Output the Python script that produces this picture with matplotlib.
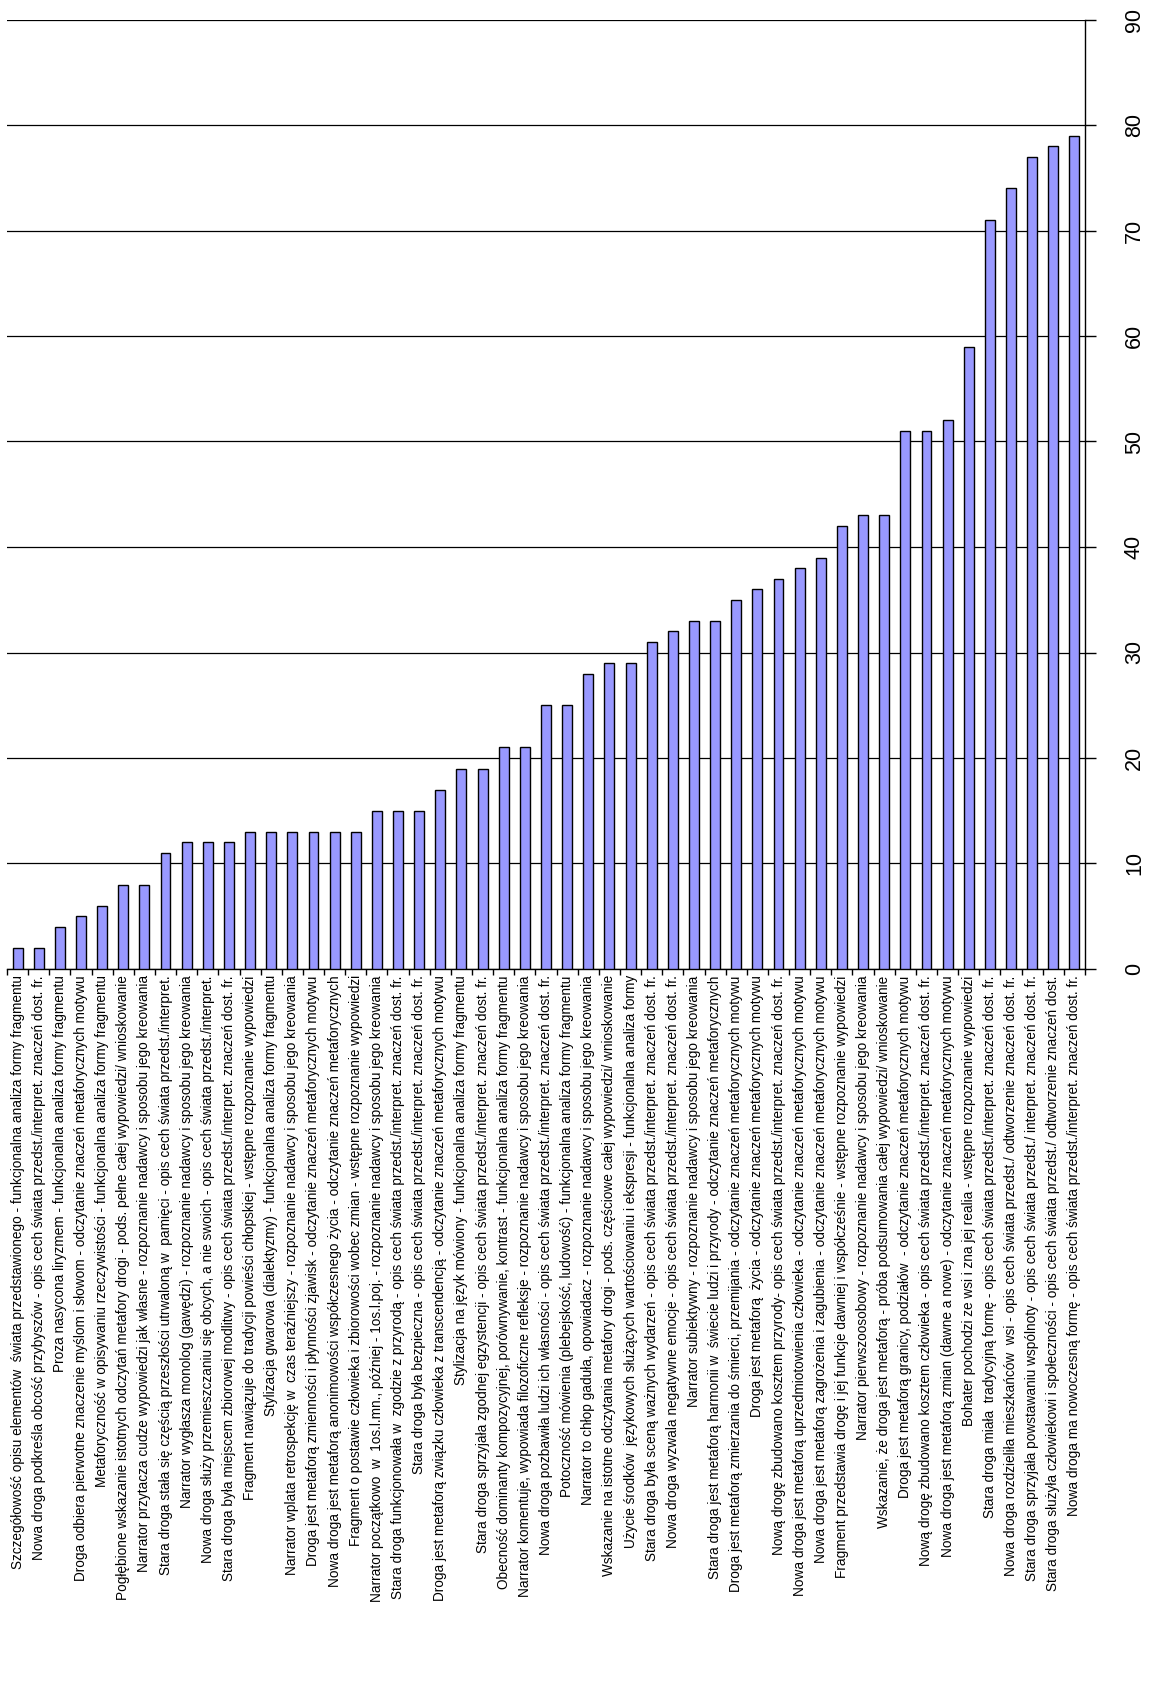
import matplotlib
matplotlib.use("Agg")
import matplotlib.pyplot as plt
import numpy as np

plt.rcParams['font.family'] = ['Liberation Sans Narrow', 'Liberation Sans', 'DejaVu Sans']

# dane: kategorie (od najniższej do najwyższej wartości) i liczebności
categories = [
    "Szczegółowość opisu elementów  świata przedstawionego - funkcjonalna analiza formy fragmentu",
    "Nowa droga podkreśla obcość przybyszów - opis cech świata przedst./interpret. znaczeń dost. fr.",
    "Proza nasycona liryzmem - funkcjonalna analiza formy fragmentu",
    "Droga odbiera pierwotne znaczenie myślom i słowom - odczytanie znaczeń metaforycznych motywu",
    "Metaforyczność w opisywaniu rzeczywistości - funkcjonalna analiza formy fragmentu",
    "Pogłębione wskazanie istotnych odczytań metafory drogi - pods. pełne całej wypowiedzi/ wnioskowanie",
    "Narrator przytacza cudze wypowiedzi jak własne - rozpoznanie nadawcy i sposobu jego kreowania",
    "Stara droga stała się częścią przeszłości utrwaloną w  pamięci - opis cech świata przedst./interpret.",
    "Narrator wygłasza monolog (gawędzi) - rozpoznanie nadawcy i sposobu jego kreowania",
    "Nowa droga służy przemieszczaniu się obcych, a nie swoich - opis cech świata przedst./interpret.",
    "Stara droga była miejscem zbiorowej modlitwy - opis cech świata przedst./interpret. znaczeń dost. fr.",
    "Fragment nawiązuje do tradycji powieści chłopskiej - wstępne rozpoznanie wypowiedzi",
    "Stylizacja gwarowa (dialektyzmy) - funkcjonalna analiza formy fragmentu",
    "Narrator wplata retrospekcję w  czas teraźniejszy - rozpoznanie nadawcy i sposobu jego kreowania",
    "Droga jest metaforą zmienności i płynności zjawisk - odczytanie znaczeń metaforycznych motywu",
    "Nowa droga jest metaforą anonimowości współczesnego życia - odczytanie znaczeń metaforycznych",
    "Fragment o postawie człowieka i zbiorowości wobec zmian - wstępne rozpoznanie wypowiedzi",
    "Narrator początkowo  w  1os.l.mn., później - 1os.l.poj. - rozpoznanie nadawcy i sposobu jego kreowania",
    "Stara droga funkcjonowała w  zgodzie z przyrodą - opis cech świata przedst./interpret. znaczeń dost. fr.",
    "Stara droga była bezpieczna - opis cech świata przedst./interpret. znaczeń dost. fr.",
    "Droga jest metaforą związku człowieka z transcendencją - odczytanie znaczeń metaforycznych motywu",
    "Stylizacja na język mówiony - funkcjonalna analiza formy fragmentu",
    "Stara droga sprzyjała zgodnej egzystencji - opis cech świata przedst./interpret. znaczeń dost. fr.",
    "Obecność dominanty kompozycyjnej, porównywanie, kontrast - funkcjonalna analiza formy fragmentu",
    "Narrator komentuje, wypowiada filozoficzne refleksje - rozpoznanie nadawcy i sposobu jego kreowania",
    "Nowa droga pozbawiła ludzi ich własności - opis cech świata przedst./interpret. znaczeń dost. fr.",
    "Potoczność mówienia (plebejskość, ludowość) - funkcjonalna analiza formy fragmentu",
    "Narrator to chłop gaduła, opowiadacz - rozpoznanie nadawcy i sposobu jego kreowania",
    "Wskazanie na istotne odczytania metafory drogi - pods. częściowe całej wypowiedzi/ wnioskowanie",
    "Użycie środków  językowych służących wartościowaniu i ekspresji - funkcjonalna analiza formy",
    "Stara droga była sceną ważnych wydarzeń - opis cech świata przedst./interpret. znaczeń dost. fr.",
    "Nowa droga wyzwala negatywne emocje - opis cech świata przedst./interpret. znaczeń dost. fr.",
    "Narrator subiektywny - rozpoznanie nadawcy i sposobu jego kreowania",
    "Stara droga jest metaforą harmonii w  świecie ludzi i przyrody - odczytanie znaczeń metaforycznych",
    "Droga jest metaforą zmierzania do śmierci, przemijania - odczytanie znaczeń metaforycznych motywu",
    "Droga jest metaforą  życia - odczytanie znaczeń metaforycznych motywu",
    "Nową drogę zbudowano kosztem przyrody- opis cech świata przedst./interpret. znaczeń dost. fr.",
    "Nowa droga jest metaforą uprzedmiotowienia człowieka - odczytanie znaczeń metaforycznych motywu",
    "Nowa droga jest metaforą zagrożenia i zagubienia - odczytanie znaczeń metaforycznych motywu",
    "Fragment przedstawia drogę i jej funkcje dawniej i współcześnie - wstępne rozpoznanie wypowiedzi",
    "Narrator pierwszoosobowy - rozpoznanie nadawcy i sposobu jego kreowania",
    "Wskazanie, że droga jest metaforą - próba podsumowania całej wypowiedzi/ wnioskowanie",
    "Droga jest metaforą granicy, podziałów  - odczytanie znaczeń metaforycznych motywu",
    "Nową drogę zbudowano kosztem człowieka - opis cech świata przedst./interpret. znaczeń dost. fr.",
    "Nowa droga jest metaforą zmian (dawne a nowe) - odczytanie znaczeń metaforycznych motywu",
    "Bohater pochodzi ze wsi i zna jej realia - wstępne rozpoznanie wypowiedzi",
    "Stara droga miała  tradycyjną formę - opis cech świata przedst./interpret. znaczeń dost. fr.",
    "Nowa droga rozdzieliła mieszkańców  wsi - opis cech świata przedst./ odtworzenie znaczeń dost. fr.",
    "Stara droga sprzyjała powstawaniu wspólnoty - opis cech świata przedst./ interpret. znaczeń dost. fr.",
    "Stara droga służyła człowiekowi i społeczności - opis cech świata przedst./ odtworzenie znaczeń dost.",
    "Nowa droga ma nowoczesną formę - opis cech świata przedst./interpret. znaczeń dost. fr.",
]
values = [2, 2, 4, 5, 6, 8, 8, 11, 12, 12, 12, 13, 13, 13, 13, 13, 13, 15, 15, 15,
          17, 19, 19, 21, 21, 25, 25, 28, 29, 29, 31, 32, 33, 33, 35, 36, 37, 38, 39, 42,
          43, 43, 51, 51, 52, 59, 71, 74, 77, 78, 79]
y_ticks = [0, 10, 20, 30, 40, 50, 60, 70, 80, 90]

fig = plt.figure(figsize=(11.58, 17.02), dpi=100)
ax = fig.add_axes([7 / 1158, 1 - 969 / 1702, (1085 - 7) / 1158, (969 - 19.5) / 1702])

x = np.arange(len(categories))
ax.bar(x, values, width=0.47, color='#9999FF', edgecolor='black', linewidth=1.0, zorder=3)

ax.set_xlim(-0.5, len(categories) - 0.5)
ax.set_ylim(0, 90)

# os kategorii - etykiety pionowe, kreski na granicach kategorii
ax.set_xticks(x)
ax.set_xticklabels(categories, rotation=90, ha='center', va='top', fontsize=9.8)
ax.set_xticks(np.arange(len(categories) + 1) - 0.5, minor=True)
ax.tick_params(axis='x', which='major', length=0, pad=4.5)
ax.tick_params(axis='x', which='minor', length=4, width=1, direction='out')

# os wartosci po prawej stronie
ax.yaxis.tick_right()
ax.set_yticks(y_ticks)
ax.set_yticklabels([str(v) for v in y_ticks], rotation=90, va='center', fontsize=15.5,
                   family=['Liberation Sans', 'DejaVu Sans'])
ax.tick_params(axis='y', length=8, width=1, direction='out', pad=20)
ax.yaxis.grid(True, color='black', linewidth=0.9, zorder=0)

ax.spines['left'].set_visible(False)
ax.spines['top'].set_visible(False)
ax.spines['right'].set_linewidth(1)
ax.spines['bottom'].set_linewidth(1)

fig.savefig('out.png', dpi=100)
